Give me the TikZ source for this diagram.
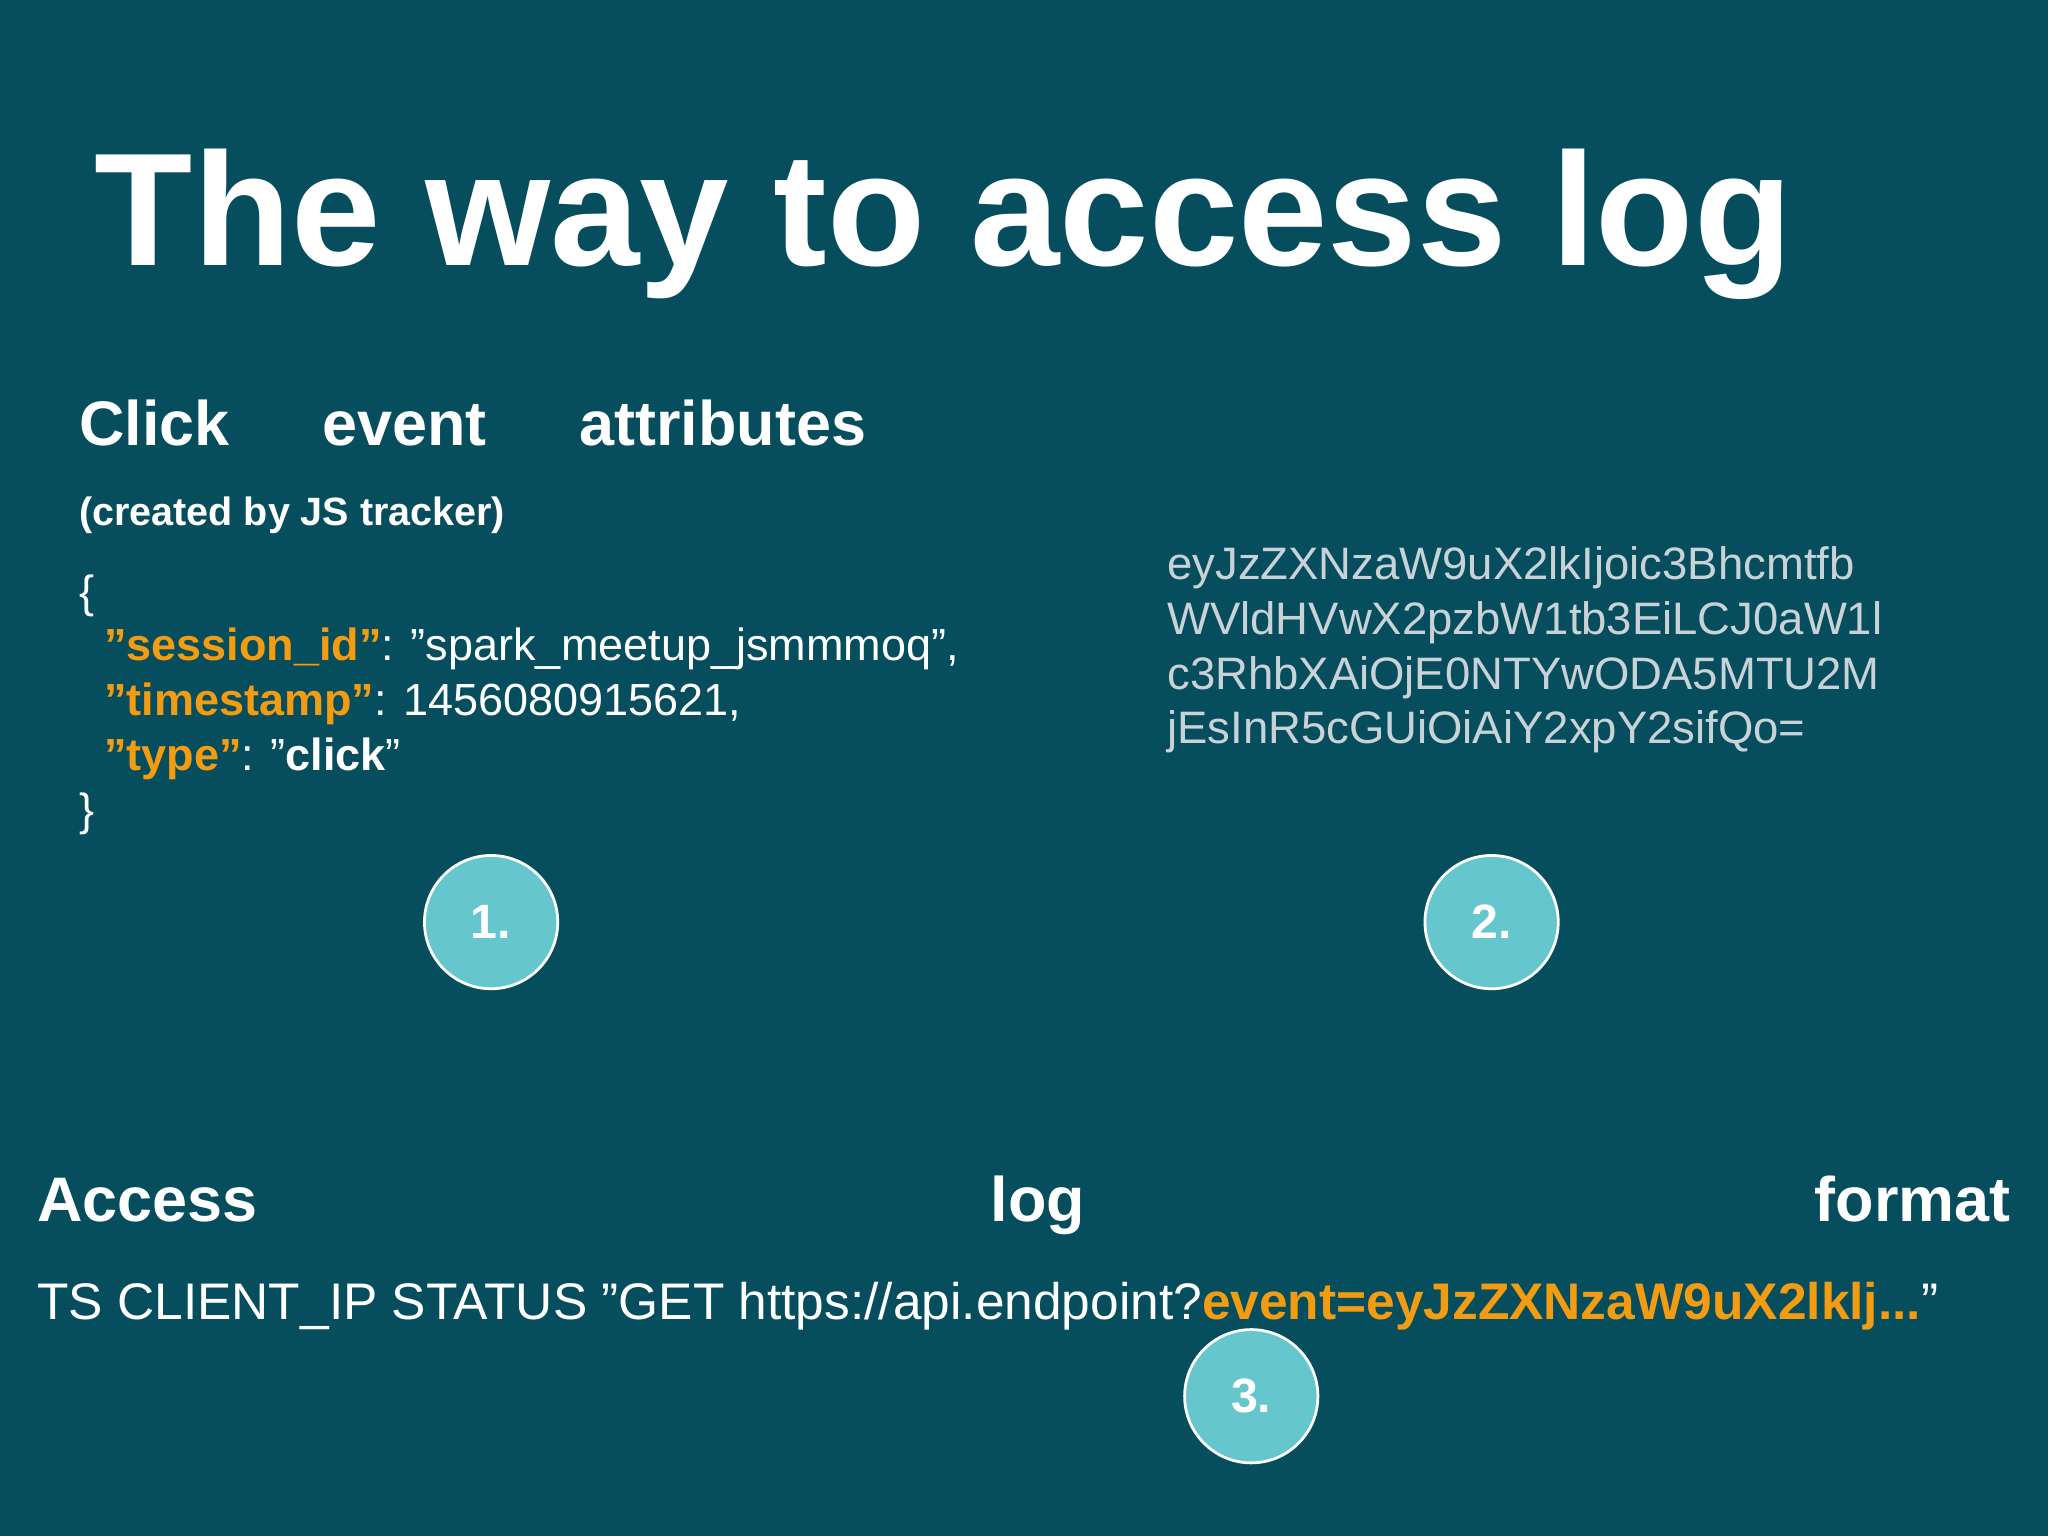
\documentclass[tikz,border=0pt]{standalone}
\usepackage{fontspec}
\setmainfont{Liberation Sans}
\newcommand{\qq}{\symbol{34}}
\begin{document}
\begin{tikzpicture}[x=0.01cm,y=-0.01cm,
  txt/.style={anchor=base west,inner sep=0,text=white},
  enc/.style={anchor=base west,inner sep=0,text=encgray,font=\fontsize{9.9}{12}\selectfont},
  js/.style={anchor=base west,inner sep=0,text=white,font=\fontsize{9.8}{12}\selectfont},
  hd/.style={font=\bfseries\fontsize{13.7}{16}\selectfont},
  num/.style={circle,draw=white,line width=0.6pt,fill=tealc,minimum size=1.02cm,text=white,font=\bfseries\fontsize{10.5}{12}\selectfont}]
\definecolor{bg}{HTML}{064E5D}
\definecolor{encgray}{HTML}{C9D2D6}
\definecolor{tealc}{HTML}{66C6CD}
\definecolor{orng}{HTML}{F39C12}
\fill[bg] (0,0) rectangle (1568,1176);
\useasboundingbox (0,0) rectangle (1568,1176);
\node[txt,font=\bfseries\fontsize{35}{40}\selectfont] (title) at (72,203) {The way to access log};
\node[txt,hd] (c1) at (60,341) {Click};
\node[txt,hd] (c2) at (246,341) {event};
\node[txt,hd] (c3) at (443,341) {attributes};
\node[txt,font=\bfseries\fontsize{8.6}{10}\selectfont] (sub) at (60,402) {(created by JS tracker)};
\node[js] (j0) at (60,465) {\{};
\node[js] (j1) at (79,506) {\textcolor{orng}{\bfseries\qq session\_id\qq}: \qq spark\_meetup\_jsmmmoq\qq,};
\node[js] (j2) at (79,548) {\textcolor{orng}{\bfseries\qq timestamp\qq}: 1456080915621,};
\node[js] (j3) at (79,590) {\textcolor{orng}{\bfseries\qq type\qq}: \qq\textbf{click}\qq};
\node[js] (j4) at (60,632) {\}};
\node[enc] (e1) at (893,444) {eyJzZXNzaW9uX2lkIjoic3Bhcmtfb};
\node[enc] (e2) at (893,486) {WVldHVwX2pzbW1tb3EiLCJ0aW1l};
\node[enc] (e3) at (893,528) {c3RhbXAiOjE0NTYwODA5MTU2M};
\node[enc] (e4) at (893,569) {jEsInR5cGUiOiAiY2xpY2sifQo=};
\node[num] (n1) at (376,706) {1.};
\node[num] (n2) at (1142,706) {2.};
\node[txt,hd] (a1) at (28,935) {Access};
\node[txt,hd] (a2) at (758,935) {log};
\node[anchor=base east,inner sep=0,text=white,hd] (a3) at (1540,935) {format};
\node[js,font=\fontsize{11.2}{13}\selectfont] (ts) at (28,1010) {TS CLIENT\_IP STATUS \qq GET https://api.endpoint?\textcolor{orng}{\bfseries event=eyJzZXNzaW9uX2lklj...}\qq};
\node[num] (n3) at (958,1069) {3.};
\end{tikzpicture}
\end{document}
